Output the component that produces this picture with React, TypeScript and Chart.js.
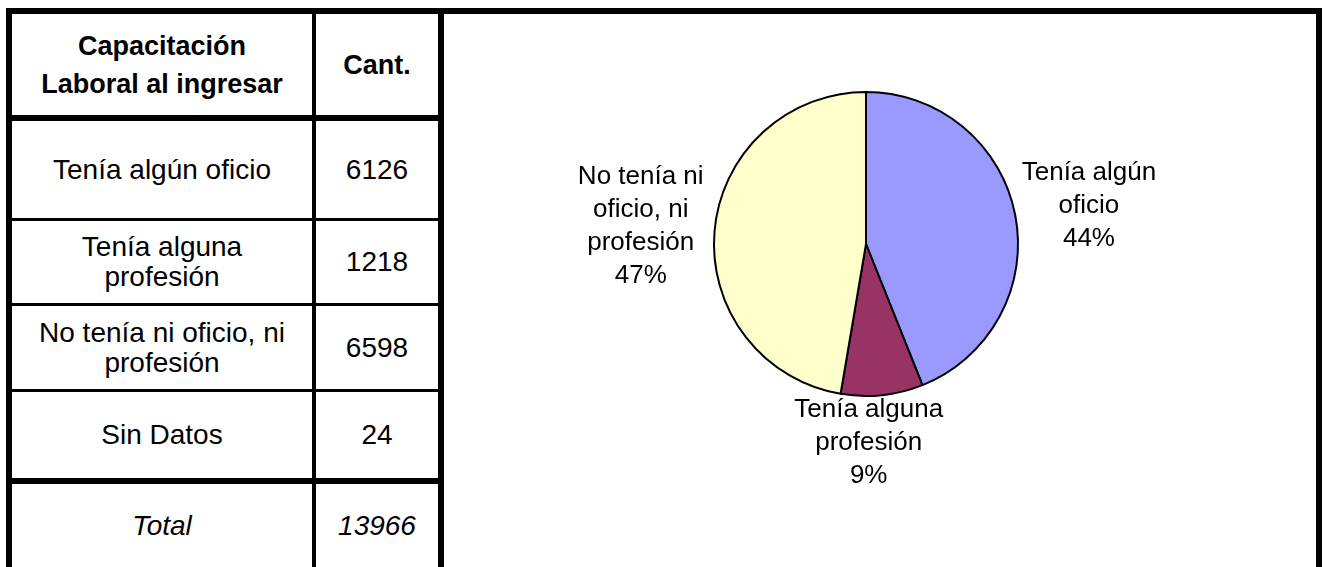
import React, { useEffect, useRef } from "react";
import { Chart, registerables } from "chart.js";

Chart.register(...registerables);

const headerLines = [["Capacitación", "Laboral al ingresar"], ["Cant."]];
const categories = [
  "Tenía algún oficio",
  "Tenía alguna profesión",
  "No tenía ni oficio, ni profesión",
  "Sin Datos",
];
const categoryLines = [
  ["Tenía algún oficio"],
  ["Tenía alguna", "profesión"],
  ["No tenía ni oficio, ni", "profesión"],
  ["Sin Datos"],
];
const counts = [6126, 1218, 6598, 24];
const totalLabel = "Total";

const pieCategories = categories.slice(0, 3);
const pieValues = counts.slice(0, 3);
const pieLabelLines = [
  ["Tenía algún", "oficio"],
  ["Tenía alguna", "profesión"],
  ["No tenía ni", "oficio, ni", "profesión"],
];
const pieColors = ["#9999FF", "#993366", "#FFFFCC"];

const FONT = "'Liberation Sans', Arial, sans-serif";

const labelPlugin = {
  id: "outsideLabels",
  afterDatasetsDraw(chart: any) {
    const ctx = chart.ctx;
    const meta = chart.getDatasetMeta(0);
    const data = chart.data.datasets[0].data as number[];
    const sum = data.reduce((a, b) => a + b, 0);
    const lh = 33;
    ctx.save();
    ctx.font = `26px ${FONT}`;
    ctx.fillStyle = "#000";
    ctx.textAlign = "center";
    ctx.textBaseline = "middle";
    meta.data.forEach((arc: any, i: number) => {
      const { x, y, startAngle, endAngle, outerRadius } = arc.getProps(
        ["x", "y", "startAngle", "endAngle", "outerRadius"],
        true
      );
      const mid = (startAngle + endAngle) / 2;
      const ux = Math.cos(mid);
      const uy = Math.sin(mid);
      const lines = [...pieLabelLines[i], Math.round((data[i] / sum) * 100) + "%"];
      const w = Math.max(...lines.map((l) => ctx.measureText(l).width));
      const h = lines.length * lh;
      const gapX = 12;
      const gapY = -2;
      const bx = x + ux * Math.abs(ux) * (outerRadius + gapX + w / 2);
      const by = y + uy * (outerRadius + gapY) + (uy * h) / 2;
      lines.forEach((l, k) => {
        ctx.fillText(l, bx, by - h / 2 + lh / 2 + k * lh);
      });
    });
    ctx.restore();
  },
};

function Line({ x, y, w, h }: { x: number; y: number; w: number; h: number }) {
  return (
    <div style={{ position: "absolute", left: x, top: y, width: w, height: h, background: "#000" }} />
  );
}

function Cell({
  x,
  y,
  w,
  h,
  lines,
  bold,
  italic,
  lineHeight,
  fontSize,
}: {
  x: number;
  y: number;
  w: number;
  h: number;
  lines: string[];
  bold?: boolean;
  italic?: boolean;
  lineHeight: number;
  fontSize: number;
}) {
  return (
    <div
      style={{
        position: "absolute",
        left: x,
        top: y,
        width: w,
        height: h,
        display: "flex",
        flexDirection: "column",
        alignItems: "center",
        justifyContent: "center",
        fontFamily: FONT,
        fontSize: fontSize,
        fontWeight: bold ? "bold" : "normal",
        fontStyle: italic ? "italic" : "normal",
        lineHeight: lineHeight + "px",
        color: "#000",
        textAlign: "center",
        whiteSpace: "nowrap",
      }}
    >
      {lines.map((l, i) => (
        <div key={i}>{l}</div>
      ))}
    </div>
  );
}

export default function App() {
  const canvasRef = useRef<HTMLCanvasElement>(null);

  useEffect(() => {
    if (!canvasRef.current) return;
    const chart = new Chart(canvasRef.current, {
      type: "pie",
      data: {
        labels: pieCategories,
        datasets: [
          {
            data: pieValues,
            backgroundColor: pieColors,
            borderColor: "#000",
            borderWidth: 2,
            radius: 152,
          } as any,
        ],
      },
      options: {
        animation: false,
        responsive: false,
        maintainAspectRatio: false,
        layout: { padding: { left: 0, right: 28, top: 0, bottom: 93 } },
        plugins: { legend: { display: false }, tooltip: { enabled: false } },
      },
      plugins: [labelPlugin],
    });
    return () => chart.destroy();
  }, []);

  const colX = [12, 316];
  const colW = [300, 122];
  const rowTops = [14, 121, 221, 306, 392, 484];
  const rowBottoms = [115, 218, 303, 389, 478, 567];
  const total = counts.reduce((a, b) => a + b, 0);

  const rows = [
    { lines: headerLines, bold: true, lh: 38, fs: 27 },
    ...categoryLines.map((cl, i) => ({ lines: [cl, [String(counts[i])]], bold: false, lh: 30, fs: 28 })),
  ];

  return (
    <div style={{ position: "absolute", left: 0, top: 0, width: 1326, height: 567, background: "#fff", overflow: "hidden" }}>
      {rows.map((r, i) =>
        [0, 1].map((c) => (
          <Cell
            key={i + "-" + c}
            x={colX[c]}
            y={rowTops[i]}
            w={colW[c]}
            h={rowBottoms[i] - rowTops[i]}
            lines={r.lines[c]}
            bold={r.bold}
            lineHeight={r.lh}
            fontSize={r.fs}
          />
        ))
      )}
      <Cell x={colX[0]} y={rowTops[5]} w={colW[0]} h={rowBottoms[5] - rowTops[5]} lines={[totalLabel]} italic lineHeight={30} fontSize={28} />
      <Cell x={colX[1]} y={rowTops[5]} w={colW[1]} h={rowBottoms[5] - rowTops[5]} lines={[String(total)]} italic lineHeight={30} fontSize={28} />

      <Line x={6} y={8} w={1316} h={6} />
      <Line x={6} y={8} w={6} h={559} />
      <Line x={1316} y={8} w={6} h={559} />
      <Line x={438} y={8} w={6} h={559} />
      <Line x={312} y={8} w={4} h={559} />
      <Line x={6} y={115} w={438} h={6} />
      <Line x={6} y={218} w={438} h={3} />
      <Line x={6} y={303} w={438} h={3} />
      <Line x={6} y={389} w={438} h={3} />
      <Line x={6} y={478} w={438} h={6} />

      <canvas
        ref={canvasRef}
        width={872}
        height={553}
        style={{ position: "absolute", left: 444, top: 14, width: 872, height: 553 }}
      />
    </div>
  );
}
